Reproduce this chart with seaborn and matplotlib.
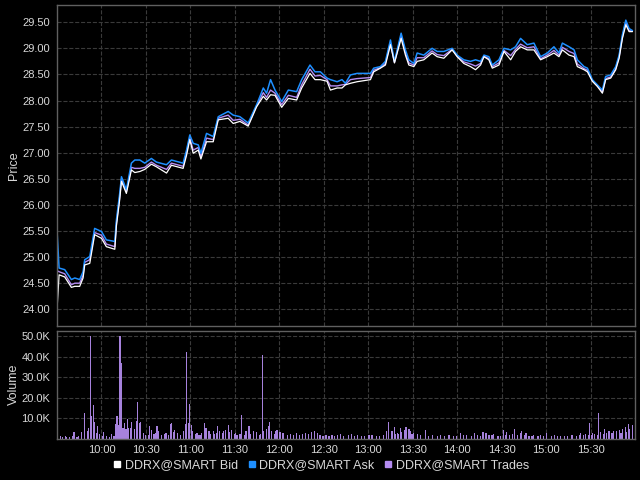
import matplotlib
matplotlib.use("Agg")
import matplotlib.pyplot as plt
from matplotlib.lines import Line2D
from matplotlib.ticker import FuncFormatter, MultipleLocator
import seaborn as sns

# minutes after 09:30
t_price = [0, 1.4, 5.2, 9.7, 12, 15.3, 17.6, 18.7, 22.1, 25.4, 30, 33.3, 39, 40.1, 42.3, 43.5,
           46.8, 50.2, 52.5, 55.9, 59.2, 63.7, 67.1, 73.9, 77.2, 85.1, 87.4, 89.6, 91.9, 95.3,
           97.1, 100.9, 105.4, 108.8, 115.5, 118.9, 123.4, 129, 134.7, 139.2, 141.4, 144.1,
           147.1, 151.6, 156.1, 161.7, 165.1, 170.7, 174.1, 177.7, 182.2, 184.5, 189, 192.3,
           194.6, 198, 202.5, 211.5, 213.7, 218.2, 221.6, 225, 227.7, 232.2, 235.1, 237.4,
           240.8, 243, 247.5, 253.1, 256.5, 261, 266.6, 270, 274.5, 279, 282.4, 285.8, 288.1,
           291.4, 293.7, 298.2, 301.6, 306.1, 309.4, 312.8, 317.3, 321.8, 326.3, 330.8, 335.3,
           338.7, 341, 345.5, 348.9, 351.1, 355.6, 357.9, 361.2, 364.6, 368, 370.2, 373.6,
           377, 379.3, 381.5, 383.8, 386, 388.3]

ask = [25.52, 24.79, 24.76, 24.57, 24.60, 24.57, 24.72, 24.95, 25.01, 25.55, 25.49, 25.33, 25.30,
       25.71, 26.22, 26.54, 26.29, 26.80, 26.86, 26.86, 26.80, 26.89, 26.82, 26.77, 26.86, 26.80,
       27.05, 27.34, 27.18, 27.15, 26.99, 27.37, 27.31, 27.69, 27.79, 27.72, 27.69, 27.57, 27.92,
       28.24, 28.14, 28.40, 28.20, 27.98, 28.20, 28.17, 28.40, 28.68, 28.55, 28.55, 28.43, 28.40,
       28.36, 28.40, 28.33, 28.49, 28.52, 28.52, 28.62, 28.65, 28.75, 29.16, 28.75, 29.29, 28.97,
       28.78, 28.71, 28.91, 28.87, 29.00, 28.94, 28.94, 29.00, 28.87, 28.78, 28.75, 28.78, 28.75,
       28.87, 28.84, 28.68, 28.78, 29.00, 28.97, 29.03, 29.19, 29.07, 29.10, 28.84, 28.91, 29.03,
       28.91, 29.10, 29.03, 28.97, 28.78, 28.65, 28.62, 28.40, 28.30, 28.20, 28.46, 28.49, 28.65,
       28.87, 29.26, 29.54, 29.38, 29.34]

bid = [23.99, 24.66, 24.62, 24.42, 24.44, 24.44, 24.60, 24.85, 24.88, 25.43, 25.36, 25.20, 25.15,
       25.60, 26.10, 26.45, 26.22, 26.67, 26.62, 26.64, 26.68, 26.78, 26.73, 26.61, 26.76, 26.70,
       26.95, 27.25, 26.99, 27.05, 26.88, 27.21, 27.21, 27.63, 27.66, 27.56, 27.60, 27.51, 27.88,
       28.08, 28.01, 28.11, 28.10, 27.87, 28.04, 28.01, 28.24, 28.52, 28.40, 28.40, 28.37, 28.20,
       28.24, 28.24, 28.30, 28.33, 28.36, 28.40, 28.55, 28.62, 28.68, 29.07, 28.72, 29.19, 28.87,
       28.68, 28.65, 28.75, 28.78, 28.91, 28.84, 28.81, 28.97, 28.84, 28.71, 28.65, 28.59, 28.68,
       28.84, 28.78, 28.62, 28.68, 28.94, 28.78, 28.94, 29.03, 28.97, 28.97, 28.78, 28.84, 28.91,
       28.84, 28.97, 28.87, 28.84, 28.65, 28.59, 28.55, 28.37, 28.27, 28.14, 28.40, 28.43, 28.59,
       28.81, 29.19, 29.45, 29.32, 29.32]

last = [24.74, 24.72, 24.68, 24.47, 24.50, 24.50, 24.65, 24.90, 24.95, 25.47, 25.42, 25.25, 25.20,
        25.65, 26.15, 26.50, 26.25, 26.72, 26.70, 26.70, 26.72, 26.82, 26.76, 26.68, 26.80, 26.74,
        27.00, 27.28, 27.05, 27.10, 26.92, 27.28, 27.25, 27.66, 27.72, 27.62, 27.64, 27.53, 27.90,
        28.15, 28.06, 28.20, 28.14, 27.92, 28.10, 28.06, 28.30, 28.60, 28.47, 28.48, 28.40, 28.28,
        28.28, 28.30, 28.31, 28.40, 28.42, 28.44, 28.58, 28.63, 28.71, 29.10, 28.73, 29.24, 28.92,
        28.72, 28.68, 28.82, 28.82, 28.95, 28.88, 28.86, 28.98, 28.85, 28.74, 28.70, 28.66, 28.71,
        28.85, 28.80, 28.65, 28.72, 28.96, 28.86, 28.98, 29.08, 29.01, 29.03, 28.80, 28.87, 28.96,
        28.87, 29.02, 28.94, 28.90, 28.70, 28.61, 28.58, 28.38, 28.28, 28.16, 28.42, 28.45, 28.61,
        28.84, 29.22, 29.50, 29.34, 29.33]

# trade volume bars (thousands of shares)
vol_min = [0.2, 2, 3, 5, 6, 8, 10, 11.3, 13, 14, 16.4, 18.7, 20.3, 21.6, 22.5, 23.9, 24.5, 25.7,
           26.6, 27.7, 28.8, 30, 31.8, 33, 35, 36.7, 38, 39.6, 40.5, 41.7, 42.6, 43.7, 44.6, 45.5,
           46.4, 47.3, 48.6, 49.8, 50.9, 52.2, 53.4, 54.5, 55.4, 56.8, 58.1, 59.5, 61, 62.6, 63.7,
           65, 66.3, 67.6, 68.9, 70.5, 72, 73.9, 75.2, 76.6, 77.7, 78.8, 79.9, 81.7, 83.5, 85.6,
           86.7, 87.6, 88.5, 89.6, 90.8, 91.9, 93, 94.1, 95.2, 96.4, 97.8, 99.3, 100.2, 102, 103.5,
           105.4, 106.5, 107.6, 108.8, 109.9, 111, 112.1, 113.9, 115.5, 116.6, 117.8, 119, 120,
           121.5, 123.4, 124.5, 126, 127.9, 129, 130.5, 132.4, 134.2, 136, 137.5, 138.7, 139.8,
           141.4, 142.6, 143.7, 144.8, 146, 147.1, 148.2, 150.4, 152.7, 155, 157, 159, 161, 163,
           165, 167, 169, 171, 173, 175, 177, 179, 181, 183, 185, 187, 189, 191, 193.5, 196.8,
           198.5, 200.2, 202.5, 205, 207.5, 210, 212.6, 215, 217.5, 220.5, 222.7, 223.9, 225,
           226.1, 227.2, 228.3, 229.5, 230.6, 231.7, 232.9, 234, 235.8, 237.4, 238.5, 239.7,
           240.8, 243, 245.5, 248.2, 250.5, 253.1, 256, 258.8, 261.5, 264.4, 267, 269.5, 272.3,
           274.5, 276.8, 279, 281.3, 283.5, 285.5, 287.4, 289.2, 291.5, 293, 294.8, 297, 299,
           301.1, 302.5, 303.8, 305.5, 307, 308.8, 310.5, 312.4, 313.9, 315, 316.2, 318, 320,
           321.8, 324, 326.5, 328.5, 330.8, 333, 335.5, 337.5, 339.8, 342, 344.5, 347.7, 350,
           352, 353.4, 355, 356.7, 358, 359.2, 360.2, 361.2, 362.8, 364, 365.3, 366.9, 368,
           369.1, 370.9, 372.5, 374.1, 375.9, 377.7, 379.3, 380.5, 381.5, 383.1, 384.5, 385.4,
           386.7, 388.3]

vol_k = [4.0, 1.0, 0.8, 1.0, 0.7, 0.9, 1.2, 3.0, 0.8, 1.1, 3.0, 12.4, 3.5, 5.0, 50.0, 11.0, 16.5,
         8.0, 2.7, 6.0, 2.0, 1.2, 3.0, 1.0, 0.8, 2.0, 1.0, 7.0, 11.0, 6.5, 50.0, 37.0, 5.0, 7.5,
         4.5, 9.6, 5.0, 5.0, 8.0, 4.7, 8.8, 18.0, 7.5, 8.3, 2.7, 1.8, 1.5, 6.0, 4.0, 2.0, 2.5,
         6.0, 3.5, 1.8, 2.0, 2.7, 1.5, 7.0, 7.5, 3.0, 4.3, 2.7, 1.5, 3.8, 7.0, 42.5, 7.5, 17.0,
         6.7, 3.8, 2.0, 2.7, 1.5, 1.8, 2.5, 7.5, 5.0, 3.8, 2.2, 3.5, 2.0, 2.7, 6.0, 3.5, 2.5, 3.8,
         4.3, 6.7, 3.0, 4.3, 2.0, 2.7, 1.5, 2.2, 11.6, 1.8, 3.8, 6.0, 2.0, 3.5, 3.2, 1.5, 2.0,
         41.0, 3.5, 4.6, 6.0, 8.0, 3.5, 2.2, 3.8, 4.3, 3.2, 2.7, 1.5, 2.2, 1.8, 2.5, 1.5, 2.0,
         2.8, 2.2, 3.2, 3.5, 2.8, 1.5, 1.2, 1.5, 1.0, 1.8, 1.2, 1.5, 2.0, 1.2, 1.8, 2.2, 1.0, 1.8,
         1.2, 1.0, 1.5, 1.8, 1.2, 1.0, 1.8, 3.8, 7.9, 3.5, 3.5, 5.7, 2.0, 2.7, 2.0, 5.0, 3.2, 4.3,
         5.7, 4.7, 3.5, 2.0, 2.7, 2.3, 1.5, 4.3, 1.2, 1.8, 1.0, 1.8, 1.2, 1.5, 1.0, 1.3, 2.7, 1.5,
         1.8, 1.2, 2.8, 1.5, 1.2, 3.0, 2.7, 1.5, 1.8, 2.2, 1.2, 1.0, 4.3, 1.5, 3.0, 1.8, 2.0, 4.6,
         1.5, 2.7, 3.5, 1.8, 2.7, 1.2, 1.0, 1.8, 1.2, 1.5, 1.2, 2.5, 1.0, 1.5, 1.0, 1.3, 1.0, 1.2,
         1.8, 1.0, 1.5, 2.8, 1.5, 2.2, 1.8, 7.4, 1.5, 2.7, 2.3, 1.8, 12.4, 3.2, 2.0, 4.8, 2.7, 3.5,
         2.7, 3.5, 3.8, 4.3, 2.5, 4.6, 5.4, 3.2, 7.0, 4.6, 6.4]

tick_min = [30, 60, 90, 120, 150, 180, 210, 240, 270, 300, 330, 360]
tick_lbl = ["10:00", "10:30", "11:00", "11:30", "12:00", "12:30", "13:00", "13:30",
            "14:00", "14:30", "15:00", "15:30"]

BID_C = "#ffffff"
ASK_C = "#1e8fff"
TRD_C = "#b48cf2"
VOL_C = "#a682dc"
TXT_C = "#d8d8d8"

sns.set_theme(style="dark", rc={
    "figure.facecolor": "black",
    "axes.facecolor": "black",
    "axes.edgecolor": "#606060",
    "axes.labelcolor": TXT_C,
    "xtick.color": TXT_C,
    "ytick.color": TXT_C,
    "grid.color": "#3a3a3a",
    "grid.linestyle": "--",
    "grid.linewidth": 0.8,
})
plt.rcParams["font.family"] = ["Liberation Sans", "DejaVu Sans"]

fig = plt.figure(figsize=(6.4, 4.8), dpi=100)
ax = fig.add_axes([57 / 640, 1 - 326 / 480, 578 / 640, 321 / 480])
axv = fig.add_axes([57 / 640, 1 - 438.5 / 480, 578 / 640, 107.5 / 480])

sns.lineplot(x=t_price, y=last, ax=ax, color=TRD_C, linewidth=1.0, estimator=None)
sns.lineplot(x=t_price, y=ask, ax=ax, color=ASK_C, linewidth=1.1, estimator=None)
sns.lineplot(x=t_price, y=bid, ax=ax, color=BID_C, linewidth=0.9, estimator=None)

sns.histplot(x=vol_min, weights=vol_k, binwidth=1, binrange=(0, 390), ax=axv,
             color=VOL_C, alpha=1.0, linewidth=0, shrink=0.8)

for a in (ax, axv):
    a.set_xlim(0, 390)
    a.set_xticks(tick_min)
    a.grid(True, axis="both")
    a.tick_params(axis="both", which="both", length=3, width=0.8, color="#606060",
                  labelsize=8, pad=2)
    for s in a.spines.values():
        s.set_color("#606060")
        s.set_linewidth(1.0)

ax.set_ylim(23.68, 29.83)
ax.yaxis.set_major_locator(MultipleLocator(0.5))
ax.yaxis.set_major_formatter(FuncFormatter(lambda v, p: f"{v:.2f}"))
ax.set_xticklabels([])
ax.tick_params(axis="x", length=0)
ax.set_xlabel("")
ax.set_ylabel("Price", fontsize=9, labelpad=2)

axv.set_ylim(0, 52.6)
axv.set_yticks([10, 20, 30, 40, 50])
axv.yaxis.set_major_formatter(FuncFormatter(lambda v, p: f"{v:.1f}K"))
axv.set_xticklabels(tick_lbl)
axv.set_xlabel("")
axv.set_ylabel("Volume", fontsize=9, labelpad=1)

handles = [Line2D([], [], marker="s", linestyle="none", color=c, markersize=5)
           for c in (BID_C, ASK_C, TRD_C)]
fig.legend(handles, ["DDRX@SMART Bid", "DDRX@SMART Ask", "DDRX@SMART Trades"],
           loc="lower center", bbox_to_anchor=(0.5, -0.005), ncol=3, frameon=False,
           fontsize=9, labelcolor=TXT_C, handletextpad=0.1, columnspacing=0.6,
           handlelength=1.0)

fig.savefig("out.png", dpi=100, facecolor="black")
